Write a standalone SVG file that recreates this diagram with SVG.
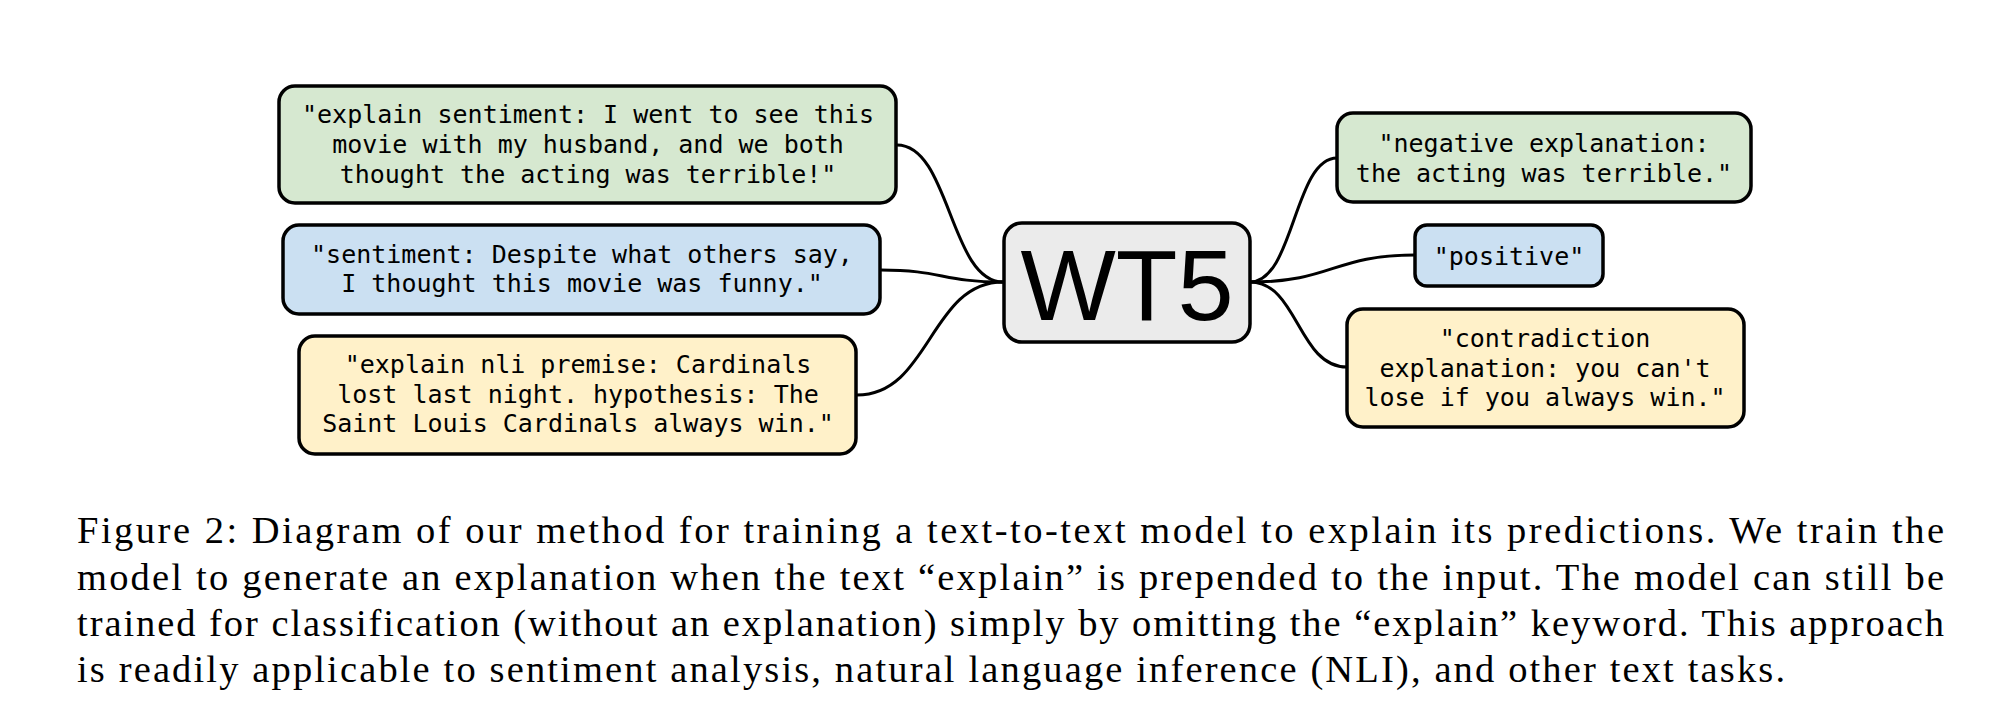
<svg xmlns="http://www.w3.org/2000/svg" width="1992" height="714" viewBox="0 0 1992 714">
<style>
.box{stroke:#000;stroke-width:3.5}
.g{fill:#d6e8d0}
.b{fill:#cbe0f2}
.y{fill:#fff1c9}
.c{fill:#ebebeb}
.t{font-family:"DejaVu Sans Mono","Liberation Mono",monospace;font-size:25px;fill:#000;text-anchor:middle}
.w{font-family:"Liberation Sans",Arial,sans-serif;font-size:101px;fill:#000;text-anchor:middle}
.cap{font-family:"Liberation Serif","Times New Roman",serif;font-size:38.5px;fill:#000}
.conn{fill:none;stroke:#000;stroke-width:3}
</style>
<rect width="1992" height="714" fill="#fff"/>
<g id="connectors">
<path class="conn" d="M897 145 C950 145 950 282 1003 282"/>
<path class="conn" d="M881 270 C942 270 942 282 1003 282"/>
<path class="conn" d="M857 395 C930 395 930 282 1003 282"/>
<path class="conn" d="M1250 282 C1294 282 1294 158 1337 158"/>
<path class="conn" d="M1250 282 C1333 282 1333 255 1415 255"/>
<path class="conn" d="M1250 282 C1298 282 1298 367 1347 367"/>
</g>
<g id="in-green">
<rect class="box g" x="279" y="86" width="617" height="117" rx="16"/>
<text class="t" x="588" y="123">"explain sentiment: I went to see this</text>
<text class="t" x="588" y="153">movie with my husband, and we both</text>
<text class="t" x="588" y="183">thought the acting was terrible!"</text>
</g>
<g id="in-blue">
<rect class="box b" x="283" y="225" width="597" height="89" rx="16"/>
<text class="t" x="582" y="263">"sentiment: Despite what others say,</text>
<text class="t" x="582" y="292">I thought this movie was funny."</text>
</g>
<g id="in-yellow">
<rect class="box y" x="299" y="336" width="557" height="118" rx="16"/>
<text class="t" x="578" y="373">"explain nli premise: Cardinals</text>
<text class="t" x="578" y="403">lost last night. hypothesis: The</text>
<text class="t" x="578" y="432">Saint Louis Cardinals always win."</text>
</g>
<g id="wt5">
<rect class="box c" x="1004" y="223" width="246" height="119" rx="18" stroke-width="4.5"/>
<text class="w" x="1127" y="320">WT5</text>
</g>
<g id="out-green">
<rect class="box g" x="1337" y="113" width="414" height="89" rx="16"/>
<text class="t" x="1544" y="152">"negative explanation:</text>
<text class="t" x="1544" y="182">the acting was terrible."</text>
</g>
<g id="out-blue">
<rect class="box b" x="1415" y="225" width="188" height="61" rx="12"/>
<text class="t" x="1509" y="265">"positive"</text>
</g>
<g id="out-yellow">
<rect class="box y" x="1347" y="309" width="397" height="118" rx="16"/>
<text class="t" x="1545" y="347">"contradiction</text>
<text class="t" x="1545" y="377">explanation: you can't</text>
<text class="t" x="1545" y="406">lose if you always win."</text>
</g>
<g id="caption">
<text class="cap" x="77" y="543" textLength="1867" lengthAdjust="spacing">Figure 2: Diagram of our method for training a text-to-text model to explain its predictions. We train the</text>
<text class="cap" x="77" y="590" textLength="1867" lengthAdjust="spacing">model to generate an explanation when the text “explain” is prepended to the input. The model can still be</text>
<text class="cap" x="77" y="636" textLength="1867" lengthAdjust="spacing">trained for classification (without an explanation) simply by omitting the “explain” keyword. This approach</text>
<text class="cap" x="77" y="682" textLength="1708" lengthAdjust="spacing">is readily applicable to sentiment analysis, natural language inference (NLI), and other text tasks.</text>
</g>
</svg>
